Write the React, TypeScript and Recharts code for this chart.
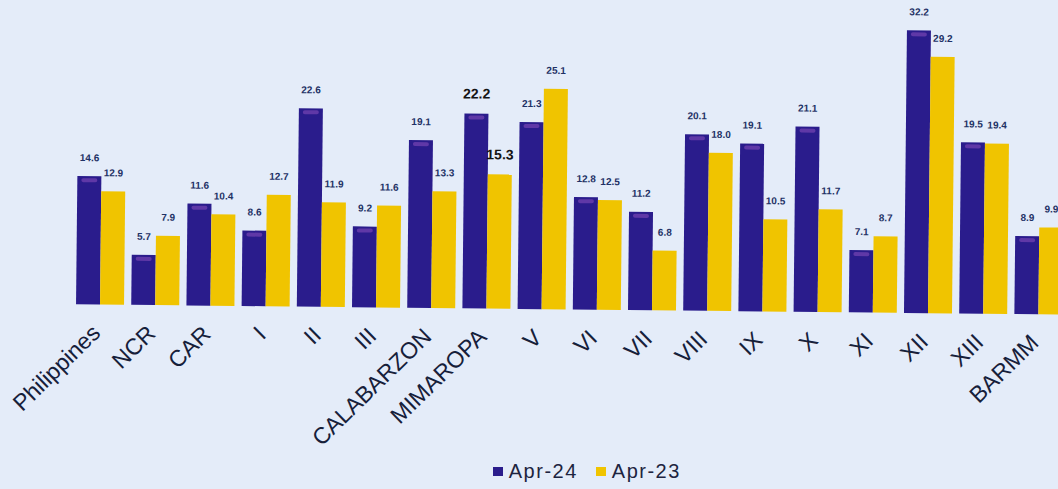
import React from 'react';
import { BarChart, Bar, XAxis, YAxis, Legend, LabelList } from 'recharts';

const categories = ['Philippines', 'NCR', 'CAR', 'I', 'II', 'III', 'CALABARZON', 'MIMAROPA', 'V', 'VI', 'VII', 'VIII', 'IX', 'X', 'XI', 'XII', 'XIII', 'BARMM'];
const apr24 = [14.6, 5.7, 11.6, 8.6, 22.6, 9.2, 19.1, 22.2, 21.3, 12.8, 11.2, 20.1, 19.1, 21.1, 7.1, 32.2, 19.5, 8.9];
const apr23 = [12.9, 7.9, 10.4, 12.7, 11.9, 11.6, 13.3, 15.3, 25.1, 12.5, 6.8, 18.0, 10.5, 11.7, 8.7, 29.2, 19.4, 9.9];
const seriesNames = ['Apr-24', 'Apr-23'];
const highlighted = ['MIMAROPA'];

const data = categories.map((c, i) => ({ name: c, a24: apr24[i], a23: apr23[i] }));

const NAVY = '#2a1c8c';
const YELLOW = '#f0c400';
const FONT = '"Liberation Sans", Arial, sans-serif';

const Tick = (props: any) => {
  const { x, y, payload } = props;
  const tx = x + 2;
  const ty = y + 30;
  return (
    <text x={tx} y={ty} transform={`rotate(-45, ${tx}, ${ty})`} textAnchor="end" fontSize={23} fontFamily={FONT} fill="#16203a">
      {payload.value}
    </text>
  );
};

const makeLabel = (key: 'a24' | 'a23') => (props: any) => {
  const { x, y, width, index, value } = props;
  const big = highlighted.includes(categories[index]);
  return (
    <text
      x={x + width / 2}
      y={y - 15}
      textAnchor="middle"
      fontSize={big ? 14 : 10}
      fontWeight="bold"
      fontFamily={FONT}
      fill={big ? '#141414' : '#1f3266'}
    >
      {Number(value).toFixed(1)}
    </text>
  );
};

const NavyShape = (props: any) => {
  const { x, y, width, height } = props;
  return (
    <g>
      <rect x={x} y={y} width={width} height={height} fill={NAVY} />
      <rect x={x + 4} y={y + 2} width={Math.max(width - 8, 0)} height={Math.min(4, height)} fill="#a05cc8" opacity={0.45} rx={2} />
    </g>
  );
};

const LegendContent = () => (
  <div style={{ display: 'flex', justifyContent: 'center', alignItems: 'center', fontFamily: FONT, fontSize: 20, letterSpacing: 1.5, color: '#1d2440', height: 24 }}>
    <span style={{ display: 'inline-block', width: 10, height: 9, background: NAVY, marginRight: 6 }} />
    <span style={{ marginRight: 18 }}>{seriesNames[0]}</span>
    <span style={{ display: 'inline-block', width: 10, height: 9, background: YELLOW, marginRight: 6 }} />
    <span>{seriesNames[1]}</span>
  </div>
);

export default function App() {
  return (
    <div className="scan" style={{ position: 'absolute', left: 0, top: 0, width: 1058, height: 489, overflow: 'hidden', background: '#e4ecf9' }}>
      <style>{`.scan svg.recharts-surface { transform: rotate(0.6deg); transform-origin: 529px 309px; }`}</style>
      <BarChart
        width={1070}
        height={489}
        data={data}
        margin={{ top: 1.7, right: 4, bottom: 6, left: 72.4 }}
        barCategoryGap={3.6}
        barGap={0}
      >
        <XAxis dataKey="name" axisLine={false} tickLine={false} tickSize={0} tickMargin={0} interval={0} height={150} tick={<Tick />} />
        <YAxis hide domain={[0, 35]} />
        <Legend verticalAlign="bottom" content={<LegendContent />} wrapperStyle={{ height: 24, left: 90 }} />
        <Bar dataKey="a24" name={seriesNames[0]} fill={NAVY} isAnimationActive={false} shape={<NavyShape />}>
          <LabelList dataKey="a24" content={makeLabel('a24')} />
        </Bar>
        <Bar dataKey="a23" name={seriesNames[1]} fill={YELLOW} isAnimationActive={false}>
          <LabelList dataKey="a23" content={makeLabel('a23')} />
        </Bar>
      </BarChart>
    </div>
  );
}
